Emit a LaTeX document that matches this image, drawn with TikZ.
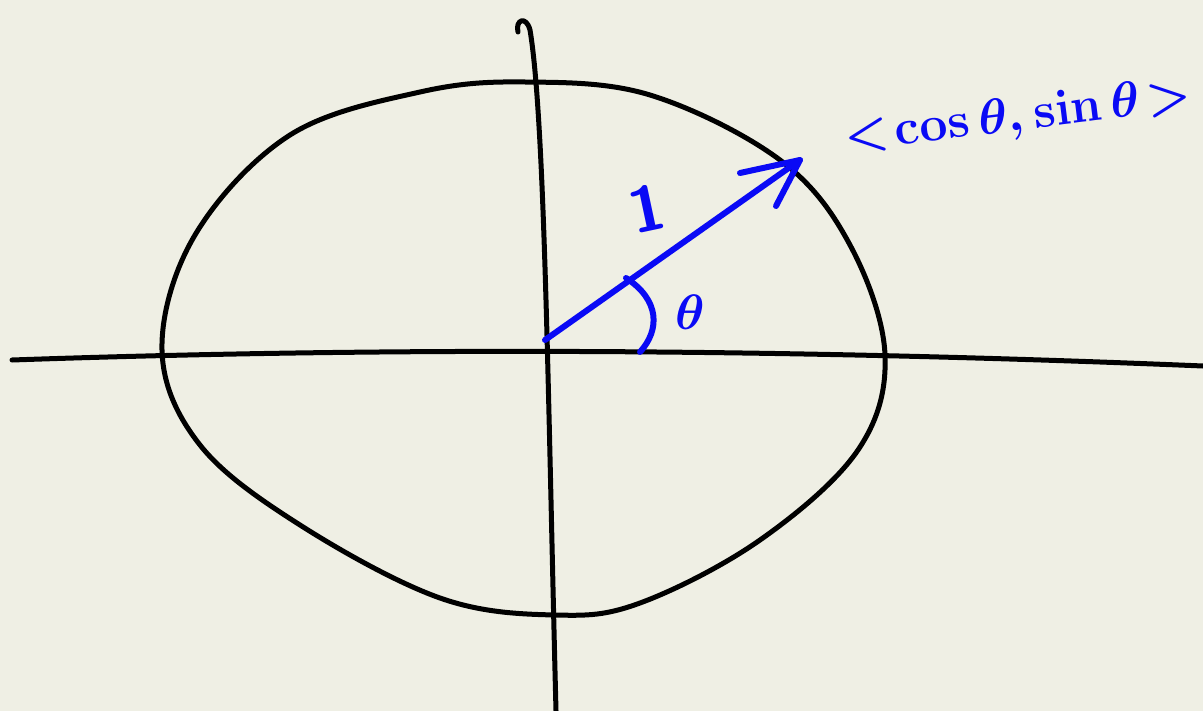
\documentclass[tikz,border=0pt]{standalone}
\usepackage{tikz}
\definecolor{paper}{HTML}{EFEFE4}
\definecolor{pen}{HTML}{0A0AF5}
\begin{document}
\begin{tikzpicture}[x=0.5pt,y=-0.5pt,
  ink/.style={line width=2.5pt,line cap=round,line join=round,black},
  blueink/.style={line width=3pt,line cap=round,line join=round,pen}]
\fill[paper] (0,0) rectangle (1203,711);
\useasboundingbox (0,0) rectangle (1203,711);
% horizontal axis
\draw[ink] (12,360) .. controls (300,350) and (700,345) .. (1203,366);
% vertical axis with hook
\draw[ink] (518,32) .. controls (515,20) and (526,15) .. (530,30)
  .. controls (545,120) and (548,400) .. (556,711);
% unit circle (hand drawn)
\draw[ink] plot[smooth cycle,tension=0.6] coordinates {
  (162,350) (195,235) (290,135) (420,92) (525,82) (650,95) (780,160)
  (850,245) (885,355) (858,450) (760,540) (640,603) (555,615)
  (440,598) (300,525) (200,445)};
% vector
\coordinate (O) at (545,340);
\coordinate (P) at (800,160);
\draw[blueink] (O) -- (P);
\draw[blueink] (740,173) -- (P) -- (776,206);
% angle arc
\draw[blueink] (626,278) .. controls (660,300) and (660,330) .. (640,352);
% labels
\node[pen,font=\fontsize{32}{34}\selectfont\bfseries,rotate=12] (one) at (647,208) {\textsf{1}};
\node[pen,font=\fontsize{48}{50}\selectfont\boldmath] (theta) at (690,312) {$\theta$};
\node[pen,font=\fontsize{36}{38}\selectfont\boldmath,rotate=7] (vec) at (1018,118) {$<\!\cos\theta,\sin\theta\!>$};
\end{tikzpicture}
\end{document}
